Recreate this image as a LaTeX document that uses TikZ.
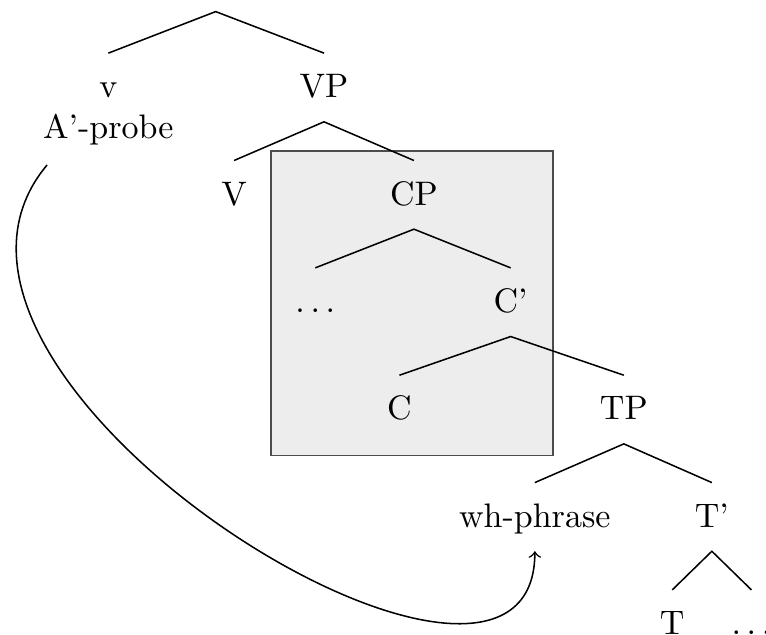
\documentclass[tikz,border=0pt]{standalone}
\usetikzlibrary{arrows}

\tikzset{
  cat/.style={anchor=base, inner xsep=0.3333em, inner ysep=5.9pt, text height=7pt, text depth=1pt},
  branch/.style={line width=0.45pt},
  phasebox/.style={draw=black!70, fill=black!7, line width=0.5pt}
}

\begin{document}
\begin{tikzpicture}
    \useasboundingbox (0,0) rectangle (7.92,-6.56);
    % the box round the CP
    \draw [phasebox] (2.80,-1.56) rectangle (5.72,-4.71);
    % nodes, one row per level
    \coordinate (top) at (2.23,-0.12);
    \node [cat] (v) at (1.12,-1.01) {v};
    \node [cat] (probe) at ([yshift=-12pt]v.base) {A'-probe};
    \node [cat] (vp) at (3.35,-1.01) {VP};
    \node [cat] (verb) at (2.42,-2.12) {V};
    \node [cat] (cp) at (4.28,-2.12) {CP};
    \node [cat] (spec) at (3.26,-3.23) {$\ldots$};
    \node [cat] (cbar) at (5.28,-3.23) {C'};
    \node [cat] (comp) at (4.13,-4.34) {C};
    \node [cat] (tp) at (6.45,-4.34) {TP};
    \node [cat] (wh) at (5.53,-5.45) {wh-phrase};
    \node [cat] (tbar) at (7.36,-5.45) {T'};
    \node [cat] (tense) at (6.95,-6.56) {T};
    \node [cat] (rest) at (7.77,-6.56) {$\ldots$};
    % branches
    \draw [branch] (v.north) -- (top) -- (vp.north);
    \draw [branch] (verb.north) -- (vp.south) -- (cp.north);
    \draw [branch] (spec.north) -- (cp.south) -- (cbar.north);
    \draw [branch] (comp.north) -- (cbar.south) -- (tp.north);
    \draw [branch] (wh.north) -- (tp.south) -- (tbar.north);
    \draw [branch] (tense.north) -- (tbar.south) -- (rest.north);
    % movement arrow
    \coordinate (movefrom) at ([xshift=4.7pt,yshift=-0.7pt]probe.south west);
    \draw [->, branch] (movefrom) to [out=230, in=-90, out distance=2.9cm, in distance=2.45cm] (wh.south);
\end{tikzpicture}
\end{document}
